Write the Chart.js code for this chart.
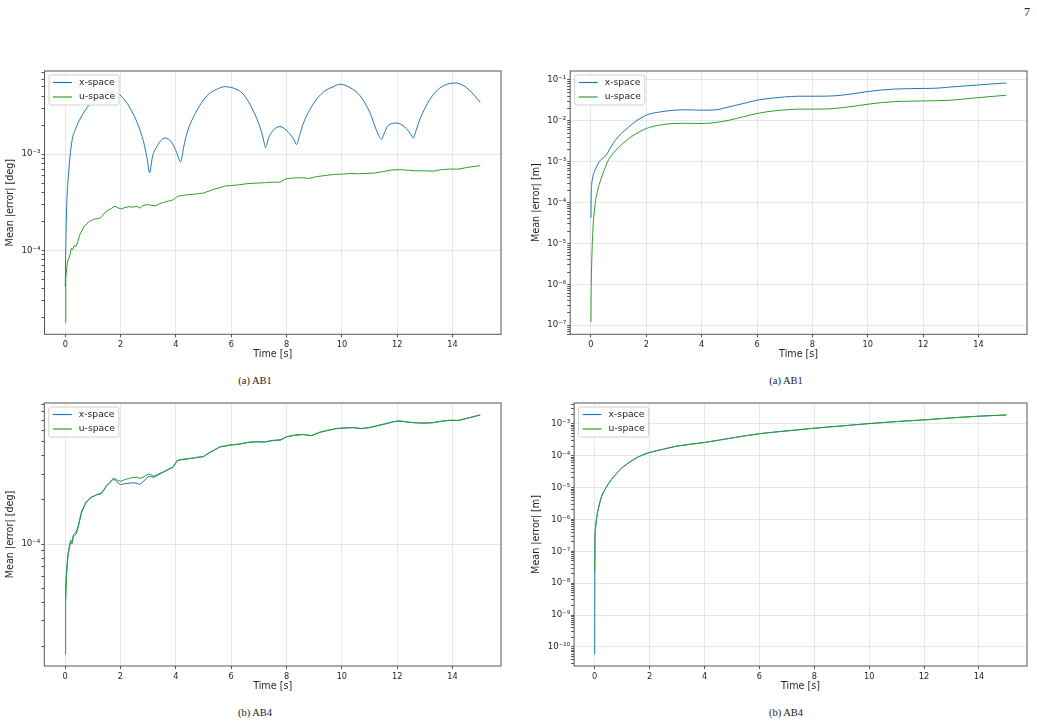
<!DOCTYPE html>
<html>
<head>
<meta charset="utf-8">
<script src="https://cdn.jsdelivr.net/npm/chart.js@4"></script>
<style>
  body { margin: 0; background: #fff; }
  #page { position: relative; width: 1037px; height: 725px; overflow: hidden; background: #fff; }
  canvas { position: absolute; }
  .cap { position: absolute; font-family: "Liberation Serif", serif; font-size: 10.5px; line-height: 12px; color: #222; transform: translateX(-50%); white-space: nowrap; }
</style>
</head>
<body>
<div id="page">
  <div class="cap" style="left:1027px;top:5px;font-size:12px;line-height:14px">7</div>
  <canvas id="c1" width="515" height="305" style="left:0;top:60px"></canvas>
  <canvas id="c2" width="517" height="305" style="left:520px;top:60px"></canvas>
  <div class="cap" style="left:255px;top:375px">(a) AB1</div>
  <div class="cap" style="left:786px;top:375px">(a) AB1</div>
  <canvas id="c3" width="515" height="305" style="left:0;top:392px"></canvas>
  <canvas id="c4" width="517" height="305" style="left:520px;top:392px"></canvas>
  <div class="cap" style="left:255px;top:707px">(b) AB4</div>
  <div class="cap" style="left:786px;top:707px">(b) AB4</div>
</div>
<script>
const seriesNames = ['x-space', 'u-space'];
const timeTicks = [0, 2, 4, 6, 8, 10, 12, 14];

// (a) AB1, angle error [deg]
const ab1AngTimeX = [0,0.02,0.05,0.11,0.23,0.4,0.53,0.89,1.25,1.6,1.98,2.46,2.82,2.95,3.05,3.15,3.3,3.6,3.84,4.02,4.17,4.28,4.39,4.75,5.11,5.47,5.77,6.07,6.43,6.8,7.04,7.16,7.24,7.34,7.46,7.76,8.06,8.25,8.36,8.47,8.6,8.96,9.33,9.69,9.93,10.29,10.65,11.01,11.25,11.35,11.43,11.52,11.67,11.98,12.28,12.48,12.58,12.68,12.82,13.18,13.54,14.08,14.5,15];
const ab1AngX = [4.2e-5,1.1e-4,2.8e-4,5.7e-4,1.3e-3,1.9e-3,2.3e-3,3.3e-3,3.9e-3,4.4e-3,4.1e-3,2.6e-3,1.38e-3,9.3e-4,6.4e-4,9.3e-4,1.18e-3,1.47e-3,1.33e-3,1.05e-3,8.3e-4,1.18e-3,1.62e-3,2.8e-3,4.0e-3,4.7e-3,5.0e-3,4.85e-3,4.2e-3,2.8e-3,1.9e-3,1.44e-3,1.17e-3,1.44e-3,1.69e-3,1.93e-3,1.69e-3,1.44e-3,1.26e-3,1.56e-3,2.06e-3,3.3e-3,4.4e-3,5.0e-3,5.3e-3,4.9e-3,4.05e-3,2.7e-3,1.76e-3,1.52e-3,1.42e-3,1.62e-3,1.98e-3,2.1e-3,1.9e-3,1.62e-3,1.47e-3,1.76e-3,2.3e-3,3.7e-3,4.85e-3,5.47e-3,4.9e-3,3.46e-3];
const ab1AngTimeU = [0,0.02,0.05,0.08,0.12,0.17,0.22,0.27,0.32,0.38,0.45,0.52,0.6,0.68,0.76,0.85,0.95,1.05,1.15,1.25,1.35,1.45,1.55,1.65,1.8,1.9,2.0,2.15,2.3,2.45,2.6,2.7,2.8,2.95,3.1,3.25,3.4,3.55,3.7,3.85,3.95,4.05,4.2,4.4,4.6,4.8,5.0,5.2,5.4,5.6,5.8,6.0,6.3,6.6,6.9,7.2,7.5,7.75,7.95,8.2,8.5,8.8,9.1,9.4,9.7,10.0,10.3,10.6,10.9,11.2,11.5,11.8,12.1,12.4,12.7,13.0,13.3,13.6,13.9,14.2,14.5,14.8,15.0];
const ab1AngU = [1.8e-5,5.2e-5,6.5e-5,7.6e-5,8.2e-5,9.0e-5,1.06e-4,1.02e-4,1.12e-4,1.1e-4,1.22e-4,1.45e-4,1.6e-4,1.78e-4,1.85e-4,2.0e-4,2.05e-4,2.12e-4,2.14e-4,2.17e-4,2.3e-4,2.5e-4,2.62e-4,2.72e-4,2.88e-4,2.78e-4,2.7e-4,2.78e-4,2.85e-4,2.82e-4,2.88e-4,2.75e-4,2.92e-4,3.0e-4,2.95e-4,2.9e-4,3.05e-4,3.15e-4,3.25e-4,3.3e-4,3.45e-4,3.65e-4,3.72e-4,3.78e-4,3.82e-4,3.88e-4,3.95e-4,4.15e-4,4.35e-4,4.5e-4,4.68e-4,4.72e-4,4.82e-4,4.95e-4,5.0e-4,5.05e-4,5.12e-4,5.1e-4,5.5e-4,5.65e-4,5.7e-4,5.6e-4,5.85e-4,6.0e-4,6.15e-4,6.2e-4,6.3e-4,6.25e-4,6.3e-4,6.38e-4,6.6e-4,6.85e-4,6.9e-4,6.8e-4,6.7e-4,6.72e-4,6.65e-4,6.9e-4,7.0e-4,6.98e-4,7.25e-4,7.45e-4,7.6e-4];

// (a) AB1, position error [m]
const ab1PosTime = [0,0.005,0.012,0.025,0.048,0.08,0.1,0.157,0.2,0.25,0.3,0.35,0.45,0.5,0.6,0.8,1.0,1.3,1.6,2.0,2.5,3.0,3.5,4.0,4.5,5.0,5.5,6.0,6.5,7.0,7.5,8.0,8.5,9.0,9.5,10.0,10.5,11.0,12.0,12.5,13.0,14.0,15.0];
const ab1PosX = [4.2e-5,1.0e-4,1.8e-4,2.7e-4,3.6e-4,4.7e-4,5.2e-4,6.5e-4,7.5e-4,8.7e-4,1.0e-3,1.1e-3,1.25e-3,1.32e-3,1.65e-3,2.8e-3,4.2e-3,6.5e-3,9.5e-3,1.38e-2,1.65e-2,1.82e-2,1.86e-2,1.82e-2,1.86e-2,2.2e-2,2.65e-2,3.2e-2,3.57e-2,3.85e-2,4.0e-2,4.0e-2,4.02e-2,4.2e-2,4.64e-2,5.2e-2,5.7e-2,6.0e-2,6.2e-2,6.3e-2,6.75e-2,7.55e-2,8.45e-2];
const ab1PosU = [1.2e-7,4e-7,1e-6,3e-6,1e-5,3e-5,4.5e-5,1e-4,1.5e-4,2.1e-4,2.8e-4,3.6e-4,5.6e-4,6.7e-4,1.0e-3,1.6e-3,2.24e-3,3.4e-3,4.7e-3,6.5e-3,7.9e-3,8.6e-3,8.7e-3,8.6e-3,9.1e-3,1.04e-2,1.26e-2,1.51e-2,1.72e-2,1.85e-2,1.93e-2,1.93e-2,1.95e-2,2.07e-2,2.28e-2,2.55e-2,2.8e-2,2.96e-2,3.07e-2,3.1e-2,3.2e-2,3.7e-2,4.23e-2];

// (b) AB4, angle error [deg]
const ab4AngTime = [0,0.02,0.05,0.08,0.11,0.15,0.2,0.25,0.3,0.35,0.4,0.45,0.5,0.6,0.68,0.75,0.85,0.95,1.05,1.15,1.3,1.4,1.5,1.6,1.75,1.85,2.0,2.15,2.3,2.45,2.6,2.7,2.85,3.0,3.1,3.2,3.35,3.5,3.65,3.8,3.9,4.05,4.2,4.4,4.6,4.8,5.0,5.2,5.4,5.6,5.8,6.0,6.3,6.6,6.9,7.2,7.5,7.8,8.0,8.3,8.6,8.9,9.2,9.5,9.8,10.1,10.4,10.7,11.0,11.3,11.6,11.9,12.1,12.4,12.7,13.0,13.3,13.6,13.9,14.2,14.5,14.8,15.0];
const ab4AngX = [4.1e-5,5.2e-5,6.3e-5,7.5e-5,8.7e-5,9.6e-5,1.06e-4,1.04e-4,1.16e-4,1.18e-4,1.22e-4,1.28e-4,1.4e-4,1.68e-4,1.8e-4,1.94e-4,2.0e-4,2.1e-4,2.12e-4,2.18e-4,2.2e-4,2.33e-4,2.5e-4,2.6e-4,2.78e-4,2.68e-4,2.55e-4,2.58e-4,2.6e-4,2.62e-4,2.6e-4,2.55e-4,2.7e-4,2.88e-4,2.9e-4,2.85e-4,2.95e-4,3.06e-4,3.16e-4,3.28e-4,3.33e-4,3.7e-4,3.76e-4,3.8e-4,3.86e-4,3.92e-4,3.95e-4,4.18e-4,4.38e-4,4.6e-4,4.66e-4,4.74e-4,4.8e-4,4.92e-4,4.98e-4,4.96e-4,5.08e-4,5.13e-4,5.38e-4,5.52e-4,5.58e-4,5.48e-4,5.78e-4,5.96e-4,6.12e-4,6.18e-4,6.22e-4,6.12e-4,6.22e-4,6.42e-4,6.62e-4,6.85e-4,6.9e-4,6.78e-4,6.7e-4,6.68e-4,6.72e-4,6.88e-4,6.98e-4,6.96e-4,7.18e-4,7.42e-4,7.58e-4];
const ab4AngU = [1.78e-5,4.0e-5,5.9e-5,7.2e-5,8.5e-5,9.2e-5,1.04e-4,1.0e-4,1.12e-4,1.14e-4,1.18e-4,1.25e-4,1.37e-4,1.64e-4,1.78e-4,1.92e-4,2.0e-4,2.08e-4,2.13e-4,2.17e-4,2.22e-4,2.35e-4,2.52e-4,2.62e-4,2.82e-4,2.75e-4,2.68e-4,2.75e-4,2.8e-4,2.85e-4,2.86e-4,2.8e-4,2.88e-4,3.0e-4,2.98e-4,2.9e-4,3.0e-4,3.08e-4,3.18e-4,3.3e-4,3.35e-4,3.72e-4,3.78e-4,3.82e-4,3.85e-4,3.9e-4,3.95e-4,4.2e-4,4.4e-4,4.62e-4,4.68e-4,4.76e-4,4.82e-4,4.95e-4,5.0e-4,4.98e-4,5.1e-4,5.15e-4,5.4e-4,5.55e-4,5.6e-4,5.5e-4,5.8e-4,5.98e-4,6.15e-4,6.2e-4,6.25e-4,6.15e-4,6.25e-4,6.45e-4,6.65e-4,6.88e-4,6.92e-4,6.8e-4,6.72e-4,6.7e-4,6.75e-4,6.9e-4,7.0e-4,6.98e-4,7.2e-4,7.45e-4,7.6e-4];

// (b) AB4, position error [m]
const ab4PosTime = [0,0.01,0.03,0.08,0.15,0.25,0.4,0.6,0.8,1.0,1.3,1.6,2.0,2.5,3.0,4.0,5.0,6.0,7.0,8.0,9.0,10,11,12,13,14,15];
const ab4PosX = [6e-11,2.0e-7,5.3e-7,1.23e-6,2.5e-6,5.2e-6,9.5e-6,1.74e-5,2.8e-5,4.2e-5,6.5e-5,9.3e-5,1.26e-4,1.6e-4,2.0e-4,2.6e-4,3.6e-4,4.9e-4,6.0e-4,7.3e-4,8.6e-4,1.02e-3,1.18e-3,1.33e-3,1.54e-3,1.74e-3,1.9e-3];
const ab4PosU = [2.3e-8,2.0e-7,5.3e-7,1.23e-6,2.5e-6,5.2e-6,9.5e-6,1.74e-5,2.8e-5,4.2e-5,6.5e-5,9.3e-5,1.26e-4,1.6e-4,2.0e-4,2.6e-4,3.6e-4,4.9e-4,6.0e-4,7.3e-4,8.6e-4,1.02e-3,1.18e-3,1.33e-3,1.54e-3,1.74e-3,1.9e-3];

const colors = ['#1f77b4', '#2ca02c'];
const fam = '"DejaVu Sans", sans-serif';
const textColor = '#262626';
const axisColor = '#555';
const gridColor = 'rgba(0,0,0,0.09)';
const sup = { '-': '\u207b', '0': '\u2070', '1': '\u00b9', '2': '\u00b2', '3': '\u00b3', '4': '\u2074', '5': '\u2075', '6': '\u2076', '7': '\u2077', '8': '\u2078', '9': '\u2079' };

function pts(t, v) { return t.map((x, i) => ({ x: x, y: v[i] })); }

function logRange(vals) {
  const lo = Math.log10(Math.min(...vals)), hi = Math.log10(Math.max(...vals));
  const m = 0.05 * (hi - lo);
  return [Math.pow(10, lo - m), Math.pow(10, hi + m)];
}

function logTicks(scale) {
  const out = [];
  const e0 = Math.floor(Math.log10(scale.min)), e1 = Math.ceil(Math.log10(scale.max));
  for (let e = e0; e <= e1; e++) {
    for (let k = 1; k < 10; k++) {
      const v = k * Math.pow(10, e);
      if (v >= scale.min && v <= scale.max) out.push({ value: v, major: k === 1 });
    }
  }
  scale.ticks = out;
}

function decadeLabel(v) {
  const l = Math.log10(v), e = Math.round(l);
  if (Math.abs(l - e) > 1e-6) return '';
  return '10' + String(e).split('').map(c => sup[c]).join('');
}

const decor = {
  id: 'decor',
  afterDatasetsDraw(chart) {
    const ctx = chart.ctx, a = chart.chartArea;
    ctx.save();
    ctx.strokeStyle = axisColor;
    ctx.lineWidth = 1;
    ctx.strokeRect(a.left, a.top, a.right - a.left, a.bottom - a.top);

    const sets = chart.data.datasets;
    ctx.font = '9.2px ' + fam;
    const w = 30 + Math.max(...sets.map(d => ctx.measureText(d.label).width)) + 4;
    const x = a.left + 4.5, y = a.top + 4, h = 30;
    ctx.fillStyle = 'rgba(255,255,255,0.85)';
    ctx.strokeStyle = '#d0d0d0';
    ctx.beginPath();
    if (ctx.roundRect) ctx.roundRect(x, y, w, h, 2); else ctx.rect(x, y, w, h);
    ctx.fill();
    ctx.stroke();
    sets.forEach((d, i) => {
      const ly = y + 7.5 + i * 14.5;
      ctx.strokeStyle = d.borderColor;
      ctx.lineWidth = 1.2;
      ctx.beginPath(); ctx.moveTo(x + 4, ly); ctx.lineTo(x + 23, ly); ctx.stroke();
      ctx.fillStyle = textColor;
      ctx.textBaseline = 'middle';
      ctx.fillText(d.label, x + 30, ly);
    });
    ctx.restore();
  }
};

function panel(id, area, yTitle, series, smooth) {
  const cv = document.getElementById(id);
  const L = cv.offsetLeft, T = cv.offsetTop, W = cv.width, H = cv.height;
  const allT = series.flatMap(s => s.t), allV = series.flatMap(s => s.v);
  const tMin = Math.min(...allT), tMax = Math.max(...allT), tm = 0.05 * (tMax - tMin);
  const [yMin, yMax] = logRange(allV);
  new Chart(cv, {
    type: 'line',
    data: {
      datasets: series.map((s, i) => ({
        label: seriesNames[i],
        data: pts(s.t, s.v),
        borderColor: colors[i],
        borderWidth: 1,
        pointRadius: 0,
        fill: false,
        order: 1 - i,
        tension: smooth[i] ? 0.4 : 0,
        cubicInterpolationMode: smooth[i] ? 'monotone' : 'default'
      }))
    },
    options: {
      responsive: false,
      devicePixelRatio: 1,
      animation: false,
      events: [],
      layout: { padding: { left: 0, top: area.top - T, right: L + W - area.right, bottom: 0 } },
      plugins: { legend: { display: false }, tooltip: { enabled: false } },
      scales: {
        x: {
          type: 'linear', min: tMin - tm, max: tMax + tm,
          afterBuildTicks: s => { s.ticks = timeTicks.map(v => ({ value: v })); },
          afterFit: s => { s.height = T + H - area.bottom; },
          border: { display: false },
          grid: { color: gridColor, tickColor: axisColor, tickLength: 3 },
          ticks: { font: { family: fam, size: 8.2 }, color: textColor, padding: 2.5, maxRotation: 0, autoSkip: false },
          title: { display: true, text: 'Time [s]', font: { family: fam, size: 9.6 }, color: textColor, padding: { top: 0, bottom: 5 } }
        },
        y: {
          type: 'logarithmic', min: yMin, max: yMax,
          afterBuildTicks: logTicks,
          afterFit: s => { s.width = area.left - L; },
          border: { display: false },
          grid: {
            color: c => (c.tick && c.tick.major) ? gridColor : 'rgba(0,0,0,0)',
            tickColor: axisColor, tickLength: 3
          },
          ticks: { font: { family: fam, size: 8.6 }, color: textColor, padding: 1, autoSkip: false, callback: v => decadeLabel(v) },
          title: { display: true, text: yTitle, font: { family: fam, size: 9.6 }, color: textColor, padding: { top: area.ytitle - L - 5.8, bottom: 0 } }
        }
      }
    },
    plugins: [decor]
  });
}

panel('c1', { left: 44.5, right: 501, top: 71, bottom: 334.3, ytitle: 10.7 }, 'Mean |error| [deg]',
  [{ t: ab1AngTimeX, v: ab1AngX }, { t: ab1AngTimeU, v: ab1AngU }], [true, false]);
panel('c2', { left: 570.2, right: 1027, top: 71, bottom: 334.3, ytitle: 536.7 }, 'Mean |error| [m]',
  [{ t: ab1PosTime, v: ab1PosX }, { t: ab1PosTime, v: ab1PosU }], [true, true]);
panel('c3', { left: 44.3, right: 501, top: 403, bottom: 666, ytitle: 10.7 }, 'Mean |error| [deg]',
  [{ t: ab4AngTime, v: ab4AngX }, { t: ab4AngTime, v: ab4AngU }], [false, false]);
panel('c4', { left: 574.1, right: 1027, top: 403, bottom: 666, ytitle: 536.7 }, 'Mean |error| [m]',
  [{ t: ab4PosTime, v: ab4PosX }, { t: ab4PosTime, v: ab4PosU }], [true, true]);
</script>
</body>
</html>
